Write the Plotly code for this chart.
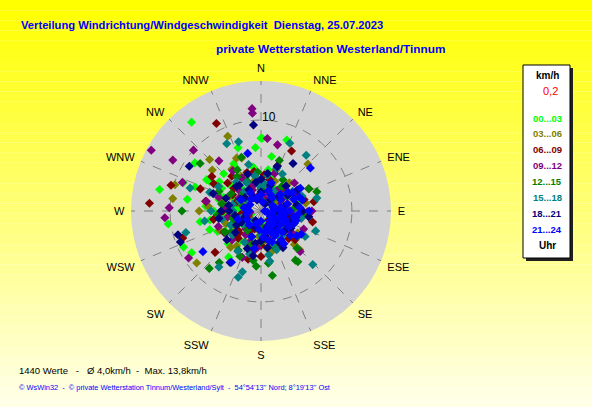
import plotly.graph_objects as go

W, H = 592, 407

# hour groups and their colours
groups = ["00...03", "03...06", "06...09", "09...12", "12...15", "15...18", "18...21", "21...24"]
colors = ["#00FF00", "#808000", "#800000", "#800080", "#008000", "#008080", "#000080", "#0000FF"]

# wind direction (deg, 0 = N) and speed (km/h) per hour group
dir_00 = [322, 282, 262, 245, 239, 1, 355, 20, 0, 11, 77, 279, 306, 290, 300, 315, 270, 250, 285, 330,
          340, 295, 265, 310, 275, 225, 350, 30, 200, 260, 290, 320, 280, 305, 240, 10, 335, 255, 215, 300,
          200, 215, 230, 245, 260, 275, 290, 305, 320, 335, 350, 5, 20, 35, 50, 250, 270, 290, 310, 280,
          260, 300, 330, 240, 220, 180, 150, 120, 90, 60]
spd_00 = [12.4, 11.4, 10.3, 9.4, 8.9, 8.0, 7.0, 8.3, 8.0, 6.1, 4.4, 8.2, 9.0, 9.1, 6.5, 5.8, 5.2, 6.0, 4.8, 5.5,
          7.4, 3.5, 3.9, 4.2, 2.8, 5.1, 3.2, 2.9, 3.6, 6.8, 7.7, 3.0, 1.9, 2.4, 4.5, 4.6, 4.0, 2.2, 6.2, 5.0,
          3.1, 4.0, 2.5, 5.3, 3.4, 6.1, 4.4, 5.6, 3.8, 2.6, 4.9, 2.0, 3.7, 2.3, 1.6, 1.2, 2.1, 1.5, 2.8, 4.1,
          5.7, 6.9, 6.0, 3.0, 1.9, 2.4, 1.3, 1.8, 2.2, 3.3]
dir_03 = [336, 45, 231, 121, 278, 287, 340, 300, 20, 60, 100, 150, 200, 250, 330,
          10, 80, 130, 170, 220, 270, 310, 350, 40, 90, 180, 240, 290, 315, 135,
          5, 25, 45, 65, 85, 105, 125, 145, 165, 185, 205, 225, 245, 265, 285,
          305, 325, 345, 15, 55, 95, 135, 175, 215, 255, 295, 335, 75, 195, 275]
spd_03 = [9.0, 7.3, 9.1, 4.7, 9.8, 9.9, 6.2, 5.5, 4.8, 3.9, 3.2, 2.6, 3.0, 4.1, 4.4,
          2.1, 5.0, 3.6, 4.2, 5.2, 6.8, 7.0, 3.5, 2.5, 1.8, 1.5, 3.3, 2.7, 8.0, 6.0,
          2.3, 3.6, 4.4, 1.9, 2.9, 4.0, 2.2, 3.5, 4.6, 2.8, 3.9, 1.4, 5.0, 3.0, 4.3,
          2.0, 5.6, 3.3, 1.1, 2.7, 1.6, 5.2, 3.4, 4.7, 2.5, 3.8, 6.4, 3.1, 2.0, 5.8]
dir_06 = [333, 65, 102, 274, 27, 286, 251, 228, 300, 320, 350, 15, 45, 90, 120,
          150, 180, 210, 240, 260, 290, 310, 340, 5, 75, 135, 195, 225, 270, 305,
          10, 30, 50, 70, 90, 110, 130, 150, 170, 190, 210, 230, 250, 270, 290,
          310, 330, 350, 20, 60, 100, 140, 180, 220, 260, 300, 340, 80, 200, 280]
spd_06 = [10.8, 5.8, 5.8, 12.3, 7.4, 10.3, 9.1, 6.8, 6.0, 5.0, 4.4, 3.6, 3.2, 2.8, 3.1,
          2.5, 3.8, 2.2, 4.7, 5.3, 7.1, 3.9, 2.9, 4.0, 4.9, 4.3, 5.5, 3.4, 1.7, 6.6,
          4.1, 2.4, 3.0, 4.6, 1.8, 3.7, 4.9, 2.0, 3.1, 4.4, 2.6, 3.3, 1.5, 4.2, 2.9,
          4.8, 2.2, 1.7, 5.3, 2.7, 3.4, 1.3, 5.0, 3.9, 2.3, 3.6, 4.5, 5.9, 2.1, 6.2]
dir_09 = [355, 355, 299, 300, 312, 272, 266, 237, 14, 5, 136, 91, 202, 290, 330,
          345, 20, 50, 70, 110, 160, 185, 220, 250, 280, 320, 10, 100, 140, 260,
          0, 25, 50, 75, 100, 125, 150, 175, 200, 225, 250, 275, 300, 325, 350,
          12, 38, 63, 88, 113, 138, 163, 188, 213, 238, 263, 288, 313, 338, 90]
spd_09 = [11.3, 10.8, 13.8, 11.2, 10.0, 10.1, 10.6, 9.5, 7.5, 8.0, 6.2, 5.1, 5.5, 9.2, 4.2,
          3.0, 4.4, 3.6, 2.4, 2.9, 3.3, 4.0, 2.6, 5.0, 6.1, 7.2, 2.0, 4.5, 1.6, 3.7,
          3.4, 2.1, 4.8, 3.0, 2.3, 4.1, 2.7, 1.9, 3.6, 4.5, 2.4, 3.9, 2.8, 5.4, 4.0,
          1.5, 2.9, 4.3, 3.5, 5.1, 2.2, 3.8, 1.7, 3.1, 4.6, 1.2, 4.9, 3.3, 2.5, 5.6]
dir_12 = [71, 170, 222, 219, 145, 172, 189, 136, 144, 308, 270, 40, 90, 110, 160,
          200, 240, 300, 330, 0, 20, 60, 120, 180, 210, 250, 280, 340, 100, 150,
          15, 35, 55, 75, 95, 115, 135, 155, 175, 195, 215, 235, 255, 275, 295,
          315, 335, 355, 45, 85, 125, 165, 205, 245, 285, 325, 5, 65, 185, 265]
spd_12 = [6.5, 7.2, 8.5, 7.3, 6.6, 5.8, 5.5, 5.7, 6.9, 8.5, 8.7, 3.5, 2.8, 3.9, 4.2,
          3.0, 4.6, 3.8, 5.2, 2.4, 5.9, 4.8, 2.2, 3.4, 5.0, 2.7, 4.4, 6.3, 1.8, 2.9,
          2.9, 4.2, 3.3, 1.6, 4.7, 3.0, 2.4, 4.4, 1.9, 3.8, 2.6, 4.0, 3.2, 1.4, 5.1,
          2.8, 3.6, 4.3, 2.0, 3.7, 4.9, 2.3, 5.5, 3.4, 2.1, 4.6, 1.2, 5.8, 6.1, 4.8]
dir_15 = [199, 197, 136, 39, 23, 342, 333, 77, 217, 288, 254, 10, 60, 100, 120,
          160, 180, 230, 270, 300, 320, 350, 30, 80, 140, 210, 250, 290, 110, 170,
          8, 33, 58, 83, 108, 133, 158, 183, 208, 233, 258, 283, 308, 333, 358,
          20, 70, 95, 145, 195, 220, 245, 270, 320, 45, 120, 170, 295, 345, 260]
spd_15 = [7.7, 7.0, 8.2, 7.9, 8.1, 8.0, 8.3, 6.3, 7.7, 8.2, 8.6, 4.0, 3.3, 4.5, 5.6,
          3.8, 2.7, 4.1, 3.1, 5.4, 2.8, 3.9, 4.7, 2.5, 3.6, 5.1, 2.3, 6.0, 6.4, 4.9,
          3.0, 2.6, 4.1, 1.7, 3.6, 2.9, 4.6, 2.1, 3.9, 2.4, 4.4, 3.2, 1.8, 3.5, 2.7,
          5.0, 4.8, 2.3, 3.3, 4.9, 1.5, 3.7, 5.5, 4.2, 1.3, 2.2, 5.6, 2.6, 5.3, 6.3]
dir_18 = [355, 302, 97, 149, 254, 249, 34, 211, 270, 315, 0, 45, 80, 110, 130, 170,
          190, 230, 260, 290, 330, 20, 60, 90, 120, 150, 200, 240, 280, 340, 100, 75,
          0, 20, 40, 60, 80, 100, 120, 140, 160, 180, 200, 220, 240, 260, 280, 300, 320, 340,
          10, 30, 50, 70, 90, 110, 130, 150, 170, 190, 210, 230, 250, 270, 290, 310, 330, 350]
spd_18 = [9.5, 9.3, 5.3, 4.7, 9.5, 9.5, 6.3, 6.6, 4.4, 3.8, 3.5, 3.9, 2.6, 2.2, 3.4, 4.1,
          5.0, 3.7, 2.9, 5.6, 2.7, 5.2, 4.6, 1.8, 2.0, 3.0, 1.9, 2.5, 3.6, 4.3, 3.9, 1.4,
          2.1, 3.0, 1.6, 3.4, 4.0, 2.7, 3.8, 2.4, 1.9, 3.3, 4.4, 2.0, 3.1, 4.7, 1.8, 2.6, 3.7, 1.3,
          4.2, 0.9, 2.5, 3.9, 4.6, 3.3, 1.6, 4.0, 2.8, 3.6, 1.2, 4.9, 1.9, 3.5, 4.1, 2.3, 1.7, 3.2]
dir_21 = [49, 210, 235, 347, 60, 75, 90, 100, 110, 120, 130, 140, 150, 160, 170, 80, 95, 115, 135,
          105, 85, 70, 125, 145, 20, 30, 200, 250, 300, 330, 10, 180, 190, 270, 60, 90, 120, 100,
          40, 55, 65, 80, 90, 100, 110, 125, 135, 150, 165, 175, 185, 70, 85, 95, 105, 115, 130, 140,
          155, 60, 75, 120, 145, 160, 50, 200, 220, 240, 260, 280, 300, 320, 340, 0, 20, 100, 110, 90]
spd_21 = [7.2, 6.5, 7.8, 6.5, 2.5, 3.0, 3.2, 2.6, 2.2, 3.5, 1.8, 2.8, 3.1, 2.0, 2.4, 1.5, 1.2, 1.6, 1.4,
          4.0, 4.3, 4.5, 4.8, 3.9, 3.3, 2.1, 3.0, 2.7, 2.5, 2.3, 1.0, 1.1, 4.2, 1.3, 5.0, 5.3, 5.1, 0.7,
          1.9, 3.6, 1.4, 2.2, 2.6, 3.7, 3.9, 2.6, 3.3, 1.7, 3.4, 2.9, 2.1, 3.8, 2.0, 4.1, 1.1, 3.0, 4.2, 2.0,
          2.6, 4.0, 4.7, 1.2, 4.4, 3.6, 2.8, 1.5, 2.0, 1.8, 1.6, 1.9, 1.4, 1.7, 1.5, 1.8, 2.4, 2.3, 2.9, 0.4]

dirs = [dir_00, dir_03, dir_06, dir_09, dir_12, dir_15, dir_18, dir_21]
spds = [spd_00, spd_03, spd_06, spd_09, spd_12, spd_15, spd_18, spd_21]

compass = ["N", "NNE", "NE", "ENE", "E", "ESE", "SE", "SSE",
           "S", "SSW", "SW", "WSW", "W", "WNW", "NW", "NNW"]
compass_deg = [i * 22.5 for i in range(16)]


def px(x):
    return x / W


def py(y):
    return 1 - y / H


fig = go.Figure()
for g, c, d, s in zip(groups, colors, dirs, spds):
    fig.add_trace(go.Scatterpolar(r=s, theta=d, mode="markers", name=g,
                                  marker=dict(symbol="diamond", size=7, color=c, line=dict(width=0))))

# yellow gradient background
shapes = []
nb = 40
for i in range(nb):
    t = i / (nb - 1)
    b = int(0 + t * 232)
    shapes.append(dict(type="rect", xref="paper", yref="paper", layer="below",
                       x0=0, x1=1, y0=1 - (i + 1) / nb, y1=1 - i / nb,
                       fillcolor="rgb(255,255,%d)" % b, line=dict(width=0)))
# legend box with shadow
shapes.append(dict(type="rect", xref="paper", yref="paper", x0=px(526), x1=px(573), y0=py(261), y1=py(68),
                   fillcolor="#202020", line=dict(width=0)))
shapes.append(dict(type="rect", xref="paper", yref="paper", x0=px(523), x1=px(570), y0=py(258), y1=py(65),
                   fillcolor="white", line=dict(color="black", width=1)))

ann = []
ann.append(dict(text="Verteilung Windrichtung/Windgeschwindigkeit  Dienstag, 25.07.2023",
                x=px(19), y=py(25), xanchor="left", yanchor="middle", showarrow=False,
                font=dict(family="Liberation Sans", size=11.2, color="#0000FF", weight="bold")))
ann.append(dict(text="private Wetterstation Westerland/Tinnum",
                x=px(214), y=py(49), xanchor="left", yanchor="middle", showarrow=False,
                font=dict(family="Liberation Sans", size=11.8, color="#0000FF", weight="bold")))
ann.append(dict(text="1440 Werte   -   Ø 4,0km/h  -  Max. 13,8km/h",
                x=px(17), y=py(370), xanchor="left", yanchor="middle", showarrow=False,
                font=dict(family="Liberation Sans", size=9.5, color="black")))
ann.append(dict(text="© WsWin32  -  © private Wetterstation Tinnum/Westerland/Sylt  -  54°54'13'' Nord; 8°19'13'' Ost",
                x=px(17), y=py(387), xanchor="left", yanchor="middle", showarrow=False,
                font=dict(family="Liberation Sans", size=7.4, color="#0000FF")))
ann.append(dict(text="km/h", x=px(547), y=py(75), xanchor="center", yanchor="middle", showarrow=False,
                font=dict(family="Liberation Sans", size=10, color="black", weight="bold")))
ann.append(dict(text="0,2", x=px(550), y=py(91), xanchor="center", yanchor="middle", showarrow=False,
                font=dict(family="Liberation Sans", size=11, color="red")))
for i, (g, c) in enumerate(zip(groups, colors)):
    ann.append(dict(text=g, x=px(547), y=py(118 + 15.9 * i), xanchor="center", yanchor="middle",
                    showarrow=False, font=dict(family="Liberation Sans", size=9.5, color=c, weight="bold")))
ann.append(dict(text="Uhr", x=px(547), y=py(245), xanchor="center", yanchor="middle", showarrow=False,
                font=dict(family="Liberation Sans", size=10, color="black", weight="bold")))
# radial scale label
ann.append(dict(text="10", x=px(269), y=py(117), xanchor="center", yanchor="middle", showarrow=False,
                font=dict(family="Liberation Sans", size=12, color="black")))

cx, cy, R = 261, 211, 130
fig.update_layout(
    width=W, height=H, margin=dict(l=0, r=0, t=0, b=0),
    paper_bgcolor="#FFFFE8", showlegend=False,
    shapes=shapes, annotations=ann,
    font=dict(family="Liberation Sans", size=11, color="black"),
    polar=dict(
        domain=dict(x=[px(cx - R), px(cx + R)], y=[py(cy + R), py(cy - R)]),
        bgcolor="#D3D3D3",
        angularaxis=dict(direction="clockwise", rotation=90, tickmode="array",
                         tickvals=compass_deg, ticktext=compass, showline=False,
                         ticks="outside", ticklen=4, tickcolor="rgba(0,0,0,0)",
                         gridcolor="#808080", griddash="dash", gridwidth=1,
                         tickfont=dict(family="Liberation Sans", size=11, color="black")),
        radialaxis=dict(range=[0, 14.3], tickvals=[10], showticklabels=False, angle=90,
                        showline=False, ticks="", gridcolor="#808080", griddash="dash"),
    ),
)

fig.write_html("out.html", config={"displayModeBar": False},
               post_script="document.body.style.margin='0';")
